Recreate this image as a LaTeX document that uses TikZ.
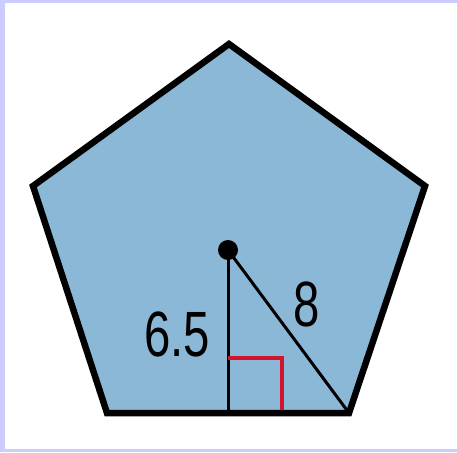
\documentclass[tikz,border=0pt]{standalone}
\usepackage{fontspec}
\setmainfont{Liberation Sans}
\definecolor{pent}{RGB}{138,184,214}
\definecolor{frame}{RGB}{204,204,255}
\definecolor{ang}{RGB}{210,20,45}
\tikzset{edge/.style={line width=6.5pt,line join=miter,draw=black,fill=pent},
  seg/.style={line width=3pt,draw=black},
  lab/.style={font=\fontsize{64}{66}\selectfont,xscale=0.74,inner sep=0pt}}
\begin{document}
\begin{tikzpicture}[x=1pt,y=-1pt]
\useasboundingbox (0,0) rectangle (457,452);
\fill[frame] (0,0) rectangle (457,452);
\fill[white] (5,3) rectangle (457,449);
\coordinate (A) at (229,44);
\coordinate (B) at (425,186);
\coordinate (C) at (349,413);
\coordinate (D) at (107,413);
\coordinate (E) at (33,186);
\draw[edge] (A) -- (B) -- (C) -- (D) -- (E) -- cycle;
\coordinate (O) at (228,250);
\coordinate (M) at (228,413);
\draw[seg] (O) -- (M);
\draw[seg] (O) -- (C);
\draw[ang,line width=3.5pt] (228,358) -- (282,358) -- (282,413);
\draw[line width=6.5pt] (D) -- (C);
\fill (O) circle (10);
\node[lab] (l1) at (177,334) {6.5};
\node[lab] (l2) at (307,304) {8};
\end{tikzpicture}
\end{document}
